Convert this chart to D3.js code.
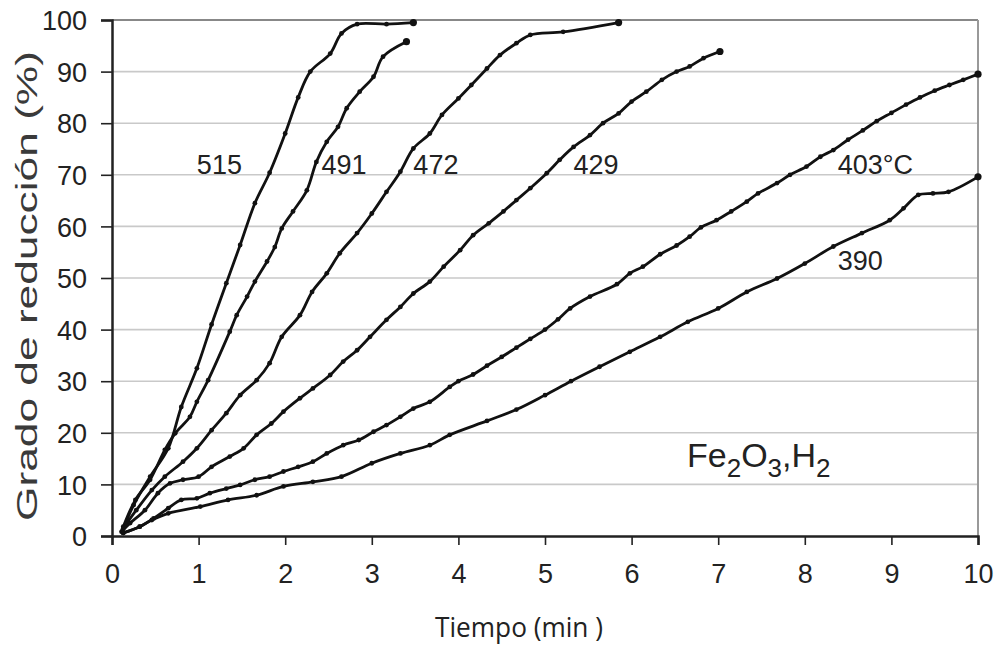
<!DOCTYPE html>
<html><head><meta charset="utf-8">
<script src="https://cdn.jsdelivr.net/npm/d3@7"></script>
<style>body{margin:0;background:#fff}svg{display:block}</style>
</head><body>
<svg id="c" width="1003" height="645"></svg>
<script>
const xTicks = [0,1,2,3,4,5,6,7,8,9,10];
const yTicks = [0,10,20,30,40,50,60,70,80,90,100];
const seriesNames = ["515","491","472","429","403°C","390"];
const s515 = [[0.12,1],[0.25,6],[0.44,11.5],[0.65,17],[0.8,25],[0.98,32.5],[1.15,41],[1.32,49],[1.48,56.4],[1.65,64.5],[1.82,70.4],[2.0,78],[2.15,85],[2.29,90],[2.52,93.5],[2.65,97.4],[2.83,99.2],[3.17,99.2],[3.48,99.5]];
const s491 = [[0.13,1.8],[0.27,7],[0.44,10.9],[0.61,16.7],[0.73,19.9],[0.9,23.1],[0.98,26],[1.11,30.2],[1.36,39.6],[1.44,42.8],[1.56,46.4],[1.65,49.3],[1.79,53.2],[1.88,56],[1.96,59.6],[2.09,62.9],[2.25,67],[2.36,72.5],[2.48,76.4],[2.61,79.3],[2.71,82.9],[2.86,86.1],[3.02,89],[3.13,92.9],[3.4,95.8]];
const s472 = [[0.13,1.5],[0.28,5],[0.46,8.9],[0.61,11.5],[0.82,14.4],[0.98,17],[1.15,20.5],[1.32,23.8],[1.48,27.3],[1.67,30.2],[1.82,33.5],[1.96,38.6],[2.17,42.8],[2.31,47.3],[2.48,50.9],[2.63,54.8],[2.83,58.7],[3.0,62.5],[3.17,66.7],[3.33,70.6],[3.48,75.1],[3.67,78],[3.81,81.6],[4.0,84.8],[4.15,87.4],[4.33,90.6],[4.48,93.2],[4.67,95.5],[4.83,97.1],[5.21,97.7],[5.85,99.5]];
const s429 = [[0.11,0.8],[0.21,2.5],[0.38,5],[0.53,8.3],[0.67,10.2],[0.82,10.9],[1.0,11.5],[1.15,13.4],[1.36,15.4],[1.52,17],[1.67,19.6],[1.84,21.8],[1.98,24.1],[2.17,26.7],[2.32,28.6],[2.52,31.2],[2.67,33.8],[2.83,36],[2.98,38.6],[3.17,41.9],[3.33,44.4],[3.48,47],[3.67,49.3],[3.83,52.2],[4.02,55.4],[4.17,58.3],[4.35,60.6],[4.52,62.9],[4.67,65.1],[4.83,67.4],[5.02,70.3],[5.17,72.9],[5.33,75.4],[5.52,77.7],[5.67,80],[5.85,81.9],[6.0,84.2],[6.17,86.1],[6.35,88.4],[6.52,90],[6.67,91],[6.83,92.6],[7.02,93.9]];
const s403 = [[0.13,0.6],[0.32,1.8],[0.48,3.4],[0.65,5.4],[0.8,7],[0.98,7.3],[1.13,8.3],[1.32,9.2],[1.48,9.9],[1.65,10.9],[1.82,11.5],[1.98,12.5],[2.15,13.4],[2.32,14.4],[2.48,16],[2.67,17.6],[2.85,18.6],[3.02,20.2],[3.17,21.5],[3.33,23.1],[3.48,24.7],[3.67,26],[3.9,28.9],[4.0,30],[4.17,31.3],[4.33,33],[4.5,34.7],[4.67,36.5],[4.83,38.2],[5.0,40],[5.15,42],[5.29,44.1],[5.52,46.4],[5.83,48.8],[5.98,50.9],[6.13,52.2],[6.33,54.6],[6.52,56.3],[6.67,58],[6.8,59.8],[6.98,61.2],[7.15,62.9],[7.33,64.8],[7.46,66.4],[7.68,68.4],[7.83,70],[8.02,71.6],[8.18,73.5],[8.33,74.8],[8.5,76.8],[8.67,78.6],[8.83,80.4],[9.0,82],[9.17,83.6],[9.33,85],[9.5,86.3],[9.67,87.4],[9.83,88.4],[10.0,89.5]];
const s390 = [[0.13,0.6],[0.32,1.8],[0.46,3.1],[0.65,4.4],[1.02,5.7],[1.34,7],[1.67,7.9],[1.98,9.6],[2.32,10.5],[2.65,11.5],[3.0,14.1],[3.33,16],[3.67,17.6],[3.9,19.6],[4.33,22.3],[4.67,24.5],[5.0,27.3],[5.3,30],[5.63,32.8],[5.98,35.7],[6.33,38.6],[6.65,41.5],[7.0,44.1],[7.33,47.3],[7.68,49.9],[8.0,52.8],[8.33,56.1],[8.66,58.7],[8.98,61.2],[9.14,63.5],[9.31,66.1],[9.48,66.4],[9.66,66.7],[10.0,69.6]];
const seriesData = [s515,s491,s472,s429,s403,s390];
const labelPos = [[0.98,72],[2.42,72],[3.48,72],[5.33,72],[8.38,72],[8.38,53.5]];

const svg = d3.select("#c");
const x = d3.scaleLinear().domain([0,10]).range([112,978]);
const y = d3.scaleLinear().domain([0,100]).range([536,20]);

// gridlines
svg.append("g").selectAll("line").data(yTicks.filter(d=>d>0)).join("line")
  .attr("x1",x(0)).attr("x2",x(10)).attr("y1",d=>y(d)).attr("y2",d=>y(d))
  .attr("stroke", d=> d===100 ? "#888" : "#c9c9c9").attr("stroke-width", d=> d===100 ? 2.2 : 1.6);
// right border
svg.append("line").attr("x1",x(10)).attr("x2",x(10)).attr("y1",y(100)).attr("y2",y(0))
  .attr("stroke","#999").attr("stroke-width",2);

const font = "Liberation Sans, Arial, sans-serif";
const xAxis = svg.append("g").attr("transform",`translate(0,${y(0)})`)
  .call(d3.axisBottom(x).tickValues(xTicks).tickSize(9).tickPadding(19).tickFormat(d3.format("d")));
const yAxis = svg.append("g").attr("transform",`translate(${x(0)},0)`)
  .call(d3.axisLeft(y).tickValues(yTicks).tickSize(11).tickPadding(14).tickFormat(d3.format("d")));
[xAxis,yAxis].forEach(a=>{
  a.select(".domain").attr("stroke","#222").attr("stroke-width",2.5);
  a.selectAll(".tick line").attr("stroke","#222").attr("stroke-width",1.6);
  a.selectAll(".tick text").attr("font-family",font).attr("font-size",27).attr("fill","#222");
});
yAxis.selectAll(".tick text").attr("dy","0.36em");
xAxis.selectAll(".tick text").attr("dy","0.72em");

const line = d3.line().x(d=>x(d[0])).y(d=>y(d[1])).curve(d3.curveCatmullRom.alpha(0.5));
const g = svg.append("g");
seriesData.forEach((s,i)=>{
  g.append("path").attr("d",line(s)).attr("fill","none").attr("stroke","#111").attr("stroke-width",2.8);
  g.selectAll(null).data(s).join("circle")
    .attr("cx",d=>x(d[0])).attr("cy",d=>y(d[1]))
    .attr("r",(d,j)=> j===s.length-1 ? 3.6 : 2.4).attr("fill","#111");
  g.append("text").attr("x",x(labelPos[i][0])).attr("y",y(labelPos[i][1]))
    .attr("dy","0.36em").attr("font-family",font).attr("font-size",27).attr("fill","#222")
    .text(seriesNames[i]);
});

// compound label
const fe = svg.append("text").attr("x",687).attr("y",467).attr("font-family",font).attr("font-size",34).attr("fill","#222");
fe.append("tspan").text("Fe");
fe.append("tspan").attr("font-size",26).attr("dy",10).text("2");
fe.append("tspan").attr("dy",-10).text("O");
fe.append("tspan").attr("font-size",26).attr("dy",10).text("3");
fe.append("tspan").attr("dy",-10).text(",H");
fe.append("tspan").attr("font-size",26).attr("dy",10).text("2");

// axis titles
svg.append("text").attr("transform","translate(37,286) rotate(-90)").attr("text-anchor","middle")
  .attr("font-family",font).attr("font-size",30).attr("fill","#3a3a3a")
  .attr("textLength",470).attr("lengthAdjust","spacingAndGlyphs")
  .text("Grado de reducción (%)");
svg.append("text").attr("x",519).attr("y",637).attr("text-anchor","middle")
  .attr("font-family","Open Sans, sans-serif").attr("font-size",28).attr("fill","#222")
  .attr("textLength",168).attr("lengthAdjust","spacingAndGlyphs")
  .text("Tiempo (min )");
</script>
</body></html>
